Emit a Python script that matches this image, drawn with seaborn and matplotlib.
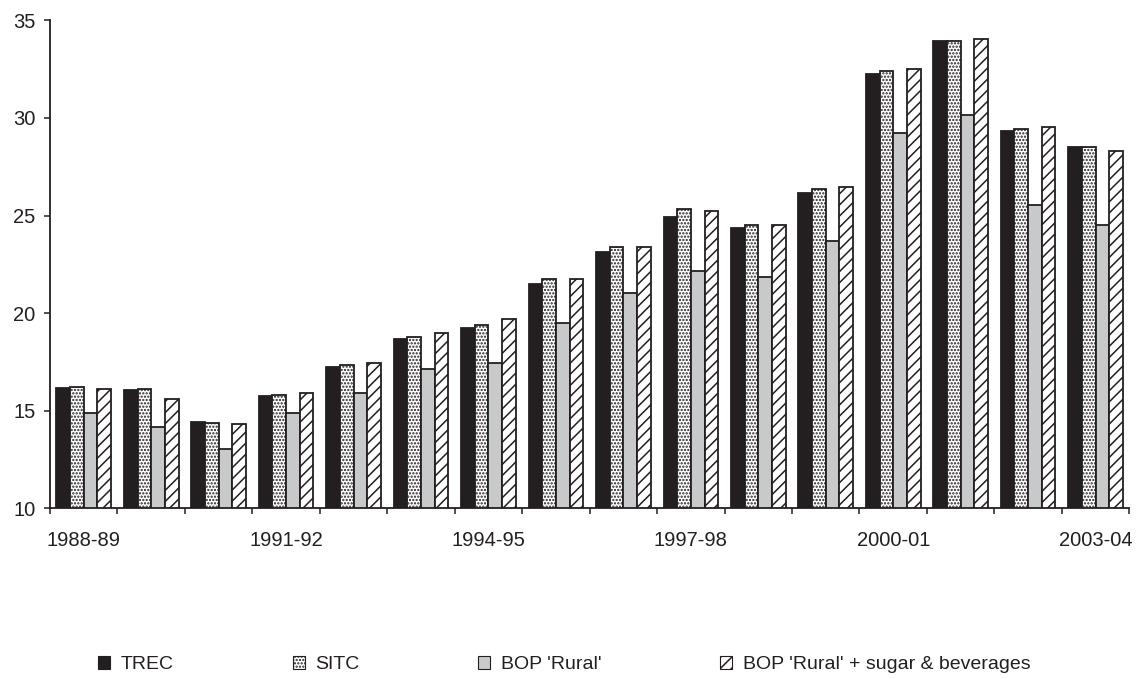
import matplotlib
matplotlib.use("Agg")
import matplotlib.pyplot as plt
import matplotlib.patches as mpatches
import numpy as np
import pandas as pd
import seaborn as sns

# Financial years on the category axis
years = ["1988-89", "1989-90", "1990-91", "1991-92", "1992-93", "1993-94",
         "1994-95", "1995-96", "1996-97", "1997-98", "1998-99", "1999-00",
         "2000-01", "2001-02", "2002-03", "2003-04"]

# Series values
trec = [16.15, 16.05, 14.40, 15.75, 17.25, 18.69, 19.22, 21.48,
        23.11, 24.94, 24.34, 26.17, 32.23, 33.95, 29.34, 28.51]
sitc = [16.23, 16.11, 14.37, 15.82, 17.36, 18.79, 19.41, 21.76,
        23.40, 25.33, 24.53, 26.36, 32.40, 33.94, 29.45, 28.51]
bop_rural = [14.90, 14.18, 13.05, 14.90, 15.92, 17.15, 17.46, 19.51,
             21.05, 22.17, 21.86, 23.71, 29.21, 30.15, 25.54, 24.51]
bop_rural_plus = [16.13, 15.62, 14.30, 15.92, 17.46, 19.00, 19.71, 21.76,
                  23.40, 25.23, 24.53, 26.48, 32.50, 34.04, 29.55, 28.29]

series_names = ["TREC", "SITC", "BOP 'Rural'", "BOP 'Rural' + sugar & beverages"]
shown_years = ["1988-89", "1991-92", "1994-95", "1997-98", "2000-01", "2003-04"]

sns.set_theme(style="white")
plt.rcParams["font.family"] = ["Liberation Sans", "DejaVu Sans"]
plt.rcParams["hatch.linewidth"] = 1.1

df = pd.DataFrame({
    "year": np.tile(years, 4),
    "series": np.repeat(series_names, len(years)),
    "value": np.concatenate([trec, sitc, bop_rural, bop_rural_plus]),
})

face_colors = {"TREC": "#231f20", "SITC": "#ffffff",
               "BOP 'Rural'": "#c8c9cb",
               "BOP 'Rural' + sugar & beverages": "#ffffff"}
hatches = ["", ".....", "", "///"]

fig = plt.figure(figsize=(11.39, 6.78), dpi=100)
ax = fig.add_axes([0.0439, 0.2503, 0.9476, 0.7197])

sns.barplot(data=df, x="year", y="value", hue="series", order=years,
            hue_order=series_names, palette=face_colors, saturation=1,
            width=0.81, gap=0, edgecolor="#231f20", linewidth=1.3,
            legend=False, ax=ax)

for container, h in zip(ax.containers, hatches):
    for bar in container:
        bar.set_hatch(h)

ax.set_ylim(10, 35)
ax.set_xlim(-0.5, len(years) - 0.5)
ax.set_yticks(np.arange(10, 36, 5))
ax.set_xlabel("")
ax.set_ylabel("")

# Tick marks sit on the group boundaries; labels centred under every third year
ax.set_xticks(np.arange(-0.5, len(years), 1.0))
ax.set_xticklabels([])
ax.set_xticks([years.index(y) for y in shown_years], minor=True)
ax.set_xticklabels(shown_years, minor=True)
ax.tick_params(axis="x", which="major", direction="out", length=4.5,
               width=1.1, color="#231f20", bottom=True)
ax.tick_params(axis="x", which="minor", length=0, pad=16, labelsize=14.5,
               labelcolor="#231f20", bottom=True)
ax.tick_params(axis="y", direction="out", length=4.5, width=1.1,
               color="#231f20", left=True, pad=6, labelsize=14.5,
               labelcolor="#231f20")

for side in ("top", "right"):
    ax.spines[side].set_visible(False)
for side in ("left", "bottom"):
    ax.spines[side].set_color("#231f20")
    ax.spines[side].set_linewidth(1.3)

handles = [mpatches.Patch(facecolor=face_colors[n], edgecolor="#231f20",
                          hatch=h, linewidth=0.8)
           for n, h in zip(series_names, hatches)]
fig.legend(handles, series_names, loc="center left",
           bbox_to_anchor=(0.071, 0.02), ncol=4, frameon=False,
           handlelength=0.62, handleheight=0.65, handletextpad=0.55,
           columnspacing=6.1, fontsize=14, labelcolor="#231f20")

fig.savefig("out.png", dpi=100, facecolor="white")
